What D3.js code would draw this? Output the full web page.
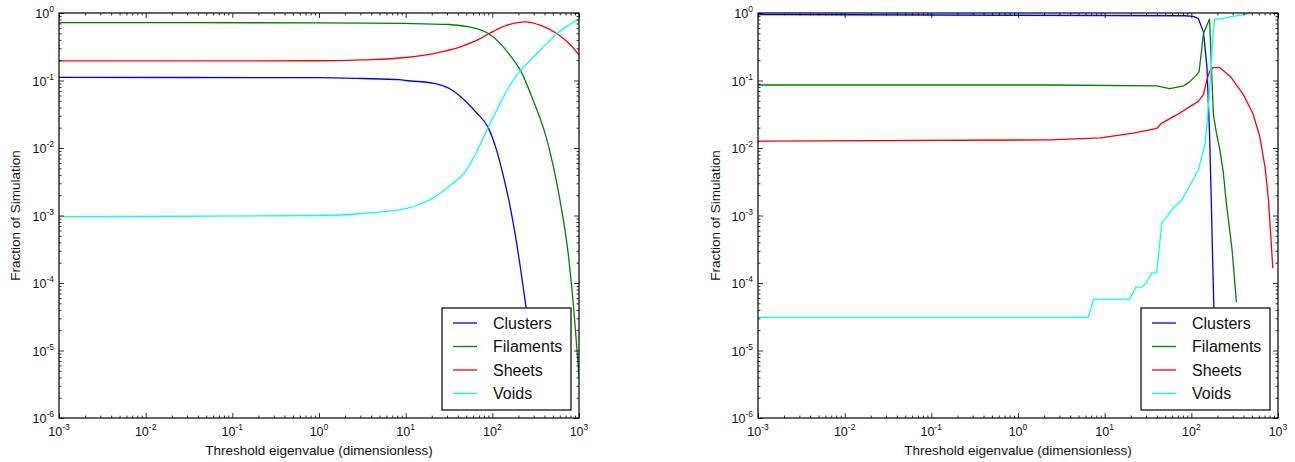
<!DOCTYPE html>
<html>
<head>
<meta charset="utf-8">
<script src="https://cdn.jsdelivr.net/npm/d3@7"></script>
<style>
  html, body { margin: 0; padding: 0; background: #fff; }
  svg { display: block; font-family: "Liberation Sans", Arial, sans-serif; }
</style>
</head>
<body>
<svg id="chart" width="1295" height="462"></svg>
<script>
// ---------- data ----------
const seriesNames = ["Clusters", "Filaments", "Sheets", "Voids"];
const seriesColors = ["#0000ff", "#008000", "#ff0000", "#00ffff"];
const xTickExps = [-3, -2, -1, 0, 1, 2, 3];
const yTickExps = [-6, -5, -4, -3, -2, -1, 0];
const xTitle = "Threshold eigenvalue (dimensionless)";
const yTitle = "Fraction of Simulation";

// left panel
const leftClustersX = [0.001, 1, 3.16, 8.5, 10, 21, 32, 43, 66, 89, 112, 135, 158, 190, 245, 282];
const leftClustersY = [0.111, 0.110, 0.107, 0.103, 0.1, 0.091, 0.076, 0.0575, 0.033, 0.0204, 0.0093, 0.0037, 0.0015, 4.0e-4, 4.3e-5, 1.1e-5];
const leftFilamentsX = [0.001, 1, 10, 31.6, 50.1, 70.8, 89.1, 123, 158.5, 208.9, 295.1, 426.6, 602.6, 741.3, 851.1, 1000];
const leftFilamentsY = [0.72, 0.716, 0.70, 0.676, 0.631, 0.569, 0.501, 0.355, 0.240, 0.145, 0.0513, 0.0132, 0.0017, 3.1e-4, 5.6e-5, 4.1e-6];
const leftSheetsX = [0.001, 1, 3.16, 10, 20.9, 42.7, 72.4, 93.3, 147.9, 239.9, 354.8, 549.5, 794.3, 1000];
const leftSheetsY = [0.195, 0.196, 0.202, 0.219, 0.251, 0.316, 0.417, 0.501, 0.661, 0.741, 0.661, 0.501, 0.339, 0.240];
const leftVoidsX = [0.001, 1, 3.16, 10, 14.8, 20, 26.9, 35.5, 50.1, 72.4, 89.1, 112.2, 147.9, 177.8, 208.9, 251.2, 302, 354.8, 446.7, 549.5, 741.3, 1000];
const leftVoidsY = [9.6e-4, 1.0e-3, 1.07e-3, 1.26e-3, 1.48e-3, 1.78e-3, 2.29e-3, 3.02e-3, 4.68e-3, 0.0112, 0.0200, 0.0363, 0.0724, 0.105, 0.138, 0.178, 0.226, 0.279, 0.380, 0.490, 0.646, 0.813];

// right panel
const rightClustersX = [0.001, 83.2, 104.7, 120.2, 138, 151.4, 162.2, 169.8, 175.8, 182, 190.5];
const rightClustersY = [0.95, 0.91, 0.89, 0.83, 0.525, 0.158, 0.0166, 0.0017, 2.5e-4, 4.3e-5, 1e-5];
const rightFilamentsX = [0.001, 2.34, 39.8, 56.2, 81.3, 95.5, 114.8, 123.0, 138.0, 162.2, 179.5, 195.0, 213.8, 234.4, 251.2, 295.1, 331.1];
const rightFilamentsY = [0.0857, 0.0857, 0.0832, 0.0759, 0.0832, 0.0955, 0.120, 0.135, 0.501, 0.813, 0.0316, 0.0166, 0.0093, 0.00427, 0.0017, 3.1e-4, 5.2e-5];
const rightSheetsX = [0.001, 2.34, 8.91, 21.4, 33.1, 39.8, 45.7, 67.6, 95.5, 120.2, 138.0, 151.4, 162.2, 177.8, 213.8, 281.8, 398.1, 512.9, 616.6, 707.9, 776.2, 871.0];
const rightSheetsY = [0.0126, 0.0132, 0.0141, 0.0166, 0.0186, 0.0195, 0.0234, 0.0309, 0.0407, 0.0490, 0.0617, 0.102, 0.135, 0.155, 0.155, 0.115, 0.0617, 0.0324, 0.0148, 0.00525, 0.0017, 1.66e-4];
const rightVoidsX = [0.001, 6.46, 7.41, 19.5, 22.9, 26.9, 30.2, 34.7, 39.8, 45.7, 50.1, 61.7, 77.6, 120.2, 144.5, 154.9, 169.8, 177.8, 186.2, 234.4, 302.0, 478.6];
const rightVoidsY = [3.1e-5, 3.1e-5, 5.75e-5, 5.75e-5, 8.7e-5, 8.7e-5, 1.0e-4, 1.41e-4, 1.41e-4, 7.76e-4, 8.9e-4, 1.29e-3, 1.7e-3, 4.68e-3, 0.0117, 0.0324, 0.158, 0.501, 0.813, 0.832, 0.891, 0.977];

const panels = [
  { left: 59, title: 15, smooth: true,
    series: [[leftClustersX, leftClustersY], [leftFilamentsX, leftFilamentsY], [leftSheetsX, leftSheetsY], [leftVoidsX, leftVoidsY]] },
  { left: 758, title: 715, smooth: false,
    series: [[rightClustersX, rightClustersY], [rightFilamentsX, rightFilamentsY], [rightSheetsX, rightSheetsY], [rightVoidsX, rightVoidsY]] }
];

// ---------- drawing ----------
const svg = d3.select("#chart");
const W = 520, H = 405, TOP = 13;

panels.forEach((p, pi) => {
  const g = svg.append("g").attr("transform", `translate(${p.left},${TOP})`);
  const x = d3.scaleLog().domain([1e-3, 1e3]).range([0, W]);
  const y = d3.scaleLog().domain([1e-6, 1]).range([H, 0]);

  const majorX = xTickExps.map(e => Math.pow(10, e));
  const majorY = yTickExps.map(e => Math.pow(10, e));
  const minorX = [], minorY = [];
  xTickExps.slice(0, -1).forEach(e => { for (let k = 2; k <= 9; k++) minorX.push(k * Math.pow(10, e)); });
  yTickExps.slice(0, -1).forEach(e => { for (let k = 2; k <= 9; k++) minorY.push(k * Math.pow(10, e)); });

  const clipId = "clip" + pi;
  g.append("clipPath").attr("id", clipId).append("rect").attr("width", W).attr("height", H);

  // lines
  const line = d3.line()
    .x(d => x(d[0])).y(d => y(d[1]))
    .curve(p.smooth ? d3.curveMonotoneX : d3.curveLinear);
  const lg = g.append("g").attr("clip-path", `url(#${clipId})`);
  p.series.forEach((s, i) => {
    const pts = s[0].map((v, j) => [v, s[1][j]]);
    lg.append("path").datum(pts)
      .attr("d", line)
      .attr("fill", "none")
      .attr("stroke", seriesColors[i])
      .attr("stroke-width", 1.3)
      .attr("stroke-linejoin", "round");
  });

  // ticks on all four sides, pointing inward
  const tickStyle = sel => {
    sel.select(".domain").remove();
    sel.selectAll(".tick line").attr("stroke", "#000").attr("stroke-width", 0.8);
    sel.selectAll(".tick text").remove();
  };
  g.append("g").attr("transform", `translate(0,${H})`).call(d3.axisBottom(x).tickValues(majorX).tickSize(-5)).call(tickStyle);
  g.append("g").attr("transform", `translate(0,${H})`).call(d3.axisBottom(x).tickValues(minorX).tickSize(-2.5)).call(tickStyle);
  g.append("g").call(d3.axisTop(x).tickValues(majorX).tickSize(-5)).call(tickStyle);
  g.append("g").call(d3.axisTop(x).tickValues(minorX).tickSize(-2.5)).call(tickStyle);
  g.append("g").call(d3.axisLeft(y).tickValues(majorY).tickSize(-5)).call(tickStyle);
  g.append("g").call(d3.axisLeft(y).tickValues(minorY).tickSize(-2.5)).call(tickStyle);
  g.append("g").attr("transform", `translate(${W},0)`).call(d3.axisRight(y).tickValues(majorY).tickSize(-5)).call(tickStyle);
  g.append("g").attr("transform", `translate(${W},0)`).call(d3.axisRight(y).tickValues(minorY).tickSize(-2.5)).call(tickStyle);

  // frame
  g.append("rect").attr("width", W).attr("height", H)
    .attr("fill", "none").attr("stroke", "#000").attr("stroke-width", 1.2);

  // tick labels
  xTickExps.forEach(e => {
    const t = g.append("text").attr("x", x(Math.pow(10, e))).attr("y", H + 18)
      .attr("text-anchor", "middle").attr("font-size", 12.5).attr("fill", "#111");
    t.append("tspan").text("10");
    t.append("tspan").attr("font-size", 8.5).attr("dy", -6).text(String(e));
  });
  yTickExps.forEach(e => {
    const t = g.append("text").attr("x", -5).attr("y", y(Math.pow(10, e)) + 5)
      .attr("text-anchor", "end").attr("font-size", 12.5).attr("fill", "#111");
    t.append("tspan").text("10");
    t.append("tspan").attr("font-size", 8.5).attr("dy", -6).text(String(e));
  });

  // axis titles
  svg.append("text").attr("x", p.left + W / 2).attr("y", 455)
    .attr("text-anchor", "middle").attr("font-size", 13.5).attr("fill", "#111").text(xTitle);
  svg.append("text").attr("transform", `translate(${p.title},${TOP + H / 2}) rotate(-90)`)
    .attr("text-anchor", "middle").attr("dy", "0.35em").attr("font-size", 13.5).attr("fill", "#111").text(yTitle);

  // legend
  const lgx = W - 137, lgy = H - 110, lw = 129, lh = 102;
  const leg = g.append("g").attr("transform", `translate(${lgx},${lgy})`);
  leg.append("rect").attr("width", lw).attr("height", lh)
    .attr("fill", "#fff").attr("stroke", "#000").attr("stroke-width", 1.2);
  seriesNames.forEach((n, i) => {
    const cy = 15 + i * 23.5;
    leg.append("line").attr("x1", 11).attr("x2", 35).attr("y1", cy).attr("y2", cy)
      .attr("stroke", seriesColors[i]).attr("stroke-width", 1.3);
    leg.append("text").attr("x", 51).attr("y", cy + 5.5).attr("font-size", 16).attr("fill", "#111").text(n);
  });
});
</script>
</body>
</html>
